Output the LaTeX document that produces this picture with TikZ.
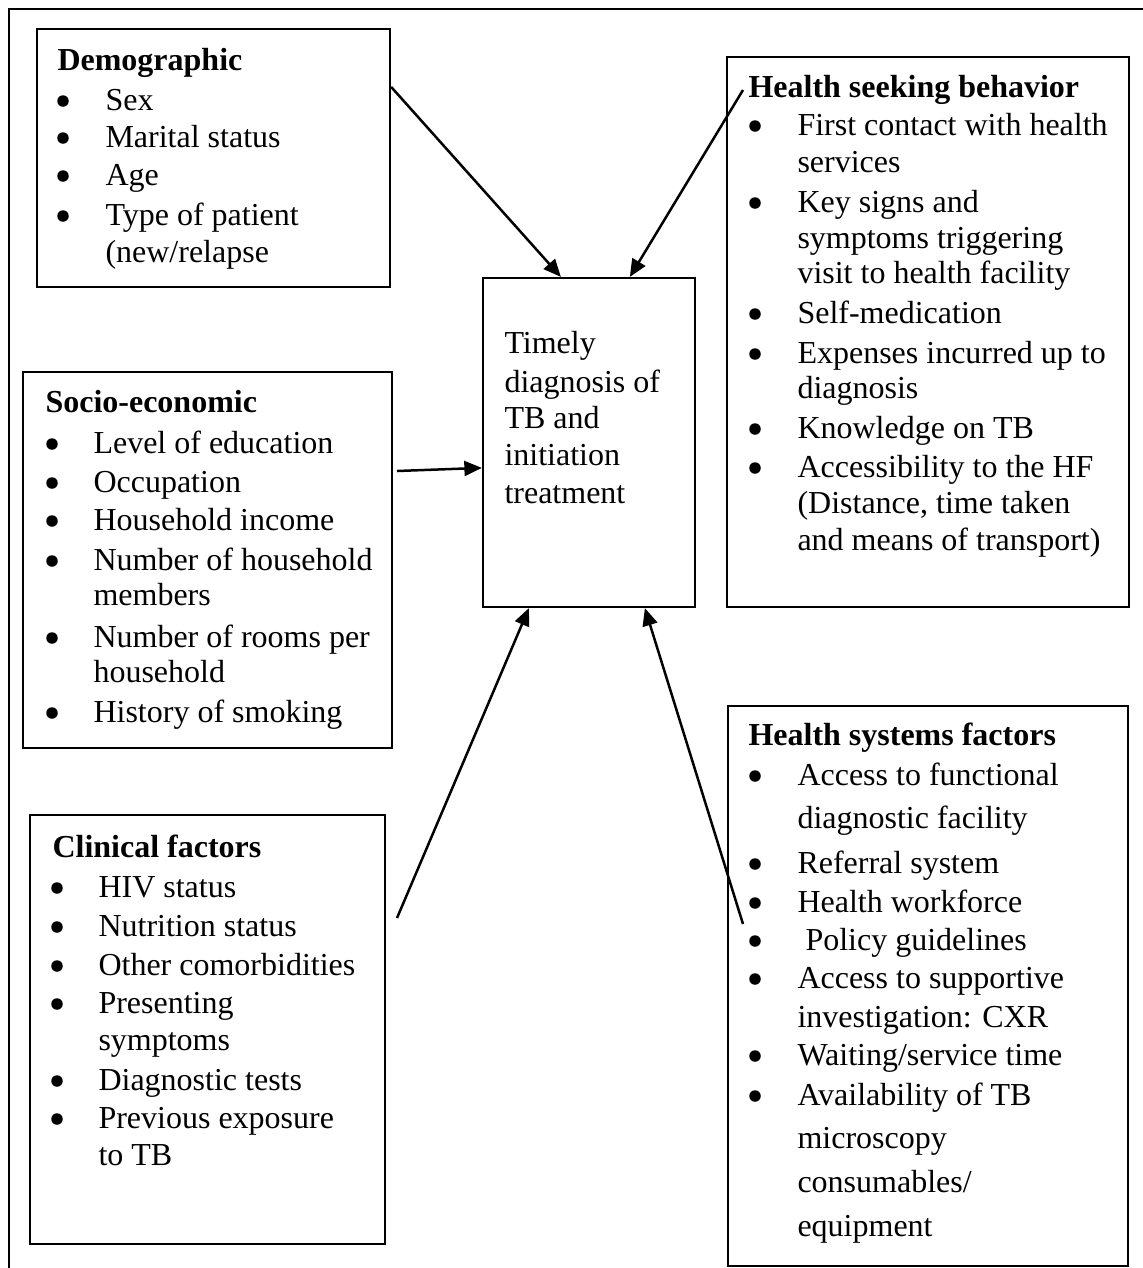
\documentclass[tikz,border=0pt]{standalone}
\usepackage{fontspec}
\setmainfont{Liberation Serif}
\usetikzlibrary{arrows.meta,fit,calc}
\newcounter{tl}
\newcommand\tline[3]{\stepcounter{tl}\node[txt] (t\arabic{tl}) at (#1,#2) {#3};}
\newcommand\hdline[3]{\stepcounter{tl}\node[hdr] (h\arabic{tl}) at (#1,#2) {#3};}
\newcommand\bul[2]{\stepcounter{tl}\node[bul] (b\arabic{tl}) at (#1,#2-9) {};}
\begin{document}
\begin{tikzpicture}[x=0.4pt,y=-0.4pt,
  box/.style={draw, line width=0.9pt, inner sep=0pt},
  txt/.style={anchor=base west, inner sep=0pt, font=\fontsize{12.8}{15}\selectfont},
  hdr/.style={anchor=base west, inner sep=0pt, font=\fontsize{12.8}{15}\selectfont\bfseries},
  bul/.style={circle, fill, draw=none, inner sep=0pt, minimum size=4.6pt},
  arr/.style={line width=1pt, -{Triangle[length=7pt,width=6pt]}}]
\useasboundingbox (0,0) rectangle (1143,1268);
\clip (0,0) rectangle (1143,1268);
\draw[line width=1.1pt] (9,1300) -- (9,9) -- (1170,9);

% boxes
\node[box, fit={(37,29) (390,287)}] (demo) {};
\node[box, fit={(727,57) (1129,607)}] (hsb) {};
\node[box, fit={(483,278) (695,607)}] (ctr) {};
\node[box, fit={(23,372) (392,748)}] (socio) {};
\node[box, fit={(30,815) (385,1244)}] (clin) {};
\node[box, fit={(728,706) (1128,1266)}] (hsys) {};

% Demographic
\hdline{57}{70}{Demographic}
\bul{63}{110}\bul{63}{147}\bul{63}{185}\bul{63}{225}
\tline{105}{110}{Sex}
\tline{105}{147}{Marital status}
\tline{105}{185}{Age}
\tline{105}{225}{Type of patient}
\tline{105}{262}{(new/relapse}

% Socio-economic
\hdline{45}{412}{Socio-economic}
\bul{52}{453}\bul{52}{492}\bul{52}{530}\bul{52}{570}\bul{52}{647}\bul{52}{722}
\tline{93}{453}{Level of education}
\tline{93}{492}{Occupation}
\tline{93}{530}{Household income}
\tline{93}{570}{Number of household}
\tline{93}{605}{members}
\tline{93}{647}{Number of rooms per}
\tline{93}{682}{household}
\tline{93}{722}{History of smoking}

% Clinical
\hdline{52}{857}{Clinical factors}
\bul{57}{897}\bul{57}{936}\bul{57}{975}\bul{57}{1013}\bul{57}{1090}\bul{57}{1128}
\tline{98}{897}{HIV status}
\tline{98}{936}{Nutrition status}
\tline{98}{975}{Other comorbidities}
\tline{98}{1013}{Presenting}
\tline{98}{1050}{symptoms}
\tline{98}{1090}{Diagnostic tests}
\tline{98}{1128}{Previous exposure}
\tline{98}{1165}{to TB}

% Health seeking behavior
\hdline{748}{97}{Health seeking behavior}
\bul{755}{135}\bul{755}{212}\bul{755}{323}\bul{755}{363}\bul{755}{438}\bul{755}{477}
\tline{797}{135}{First contact with health}
\tline{797}{172}{services}
\tline{797}{212}{Key signs and}
\tline{797}{248}{symptoms triggering}
\tline{797}{283}{visit to health facility}
\tline{797}{323}{Self-medication}
\tline{797}{363}{Expenses incurred up to}
\tline{797}{398}{diagnosis}
\tline{797}{438}{Knowledge on TB}
\tline{797}{477}{Accessibility to the HF}
\tline{797}{513}{(Distance, time taken}
\tline{797}{550}{and means of transport)}

% Health systems factors
\hdline{748}{745}{Health systems factors}
\bul{755}{785}\bul{755}{873}\bul{755}{912}\bul{755}{950}\bul{755}{988}\bul{755}{1065}\bul{755}{1105}
\tline{797}{785}{Access to functional}
\tline{797}{828}{diagnostic facility}
\tline{797}{873}{Referral system}
\tline{797}{912}{Health workforce}
\tline{805}{950}{Policy guidelines}
\tline{797}{988}{Access to supportive}
\tline{797}{1027}{investigation: CXR}
\tline{797}{1065}{Waiting/service time}
\tline{797}{1105}{Availability of TB}
\tline{797}{1148}{microscopy}
\tline{797}{1192}{consumables/}
\tline{797}{1236}{equipment}

% centre
\tline{504}{353}{Timely}
\tline{504}{392}{diagnosis of}
\tline{504}{428}{TB and}
\tline{504}{465}{initiation}
\tline{504}{503}{treatment}

% connector free ends
\coordinate (hsbS) at (743,90);
\coordinate (socS) at (397,471);
\coordinate (clinS) at (397,918);
\coordinate (hsysS) at (743,924);

\draw[arr] ($(demo.north east)+(0,59)$) -- ($(ctr.north west)+(79,0)$);
\draw[arr] (hsbS) -- ($(ctr.north west)+(148,0)$);
\draw[arr] (socS) -- ($(ctr.north west)+(0,191)$);
\draw[arr] (clinS) -- ($(ctr.south west)+(47,0)$);
\draw[arr] (hsysS) -- ($(ctr.south west)+(163,0)$);
\end{tikzpicture}
\end{document}
